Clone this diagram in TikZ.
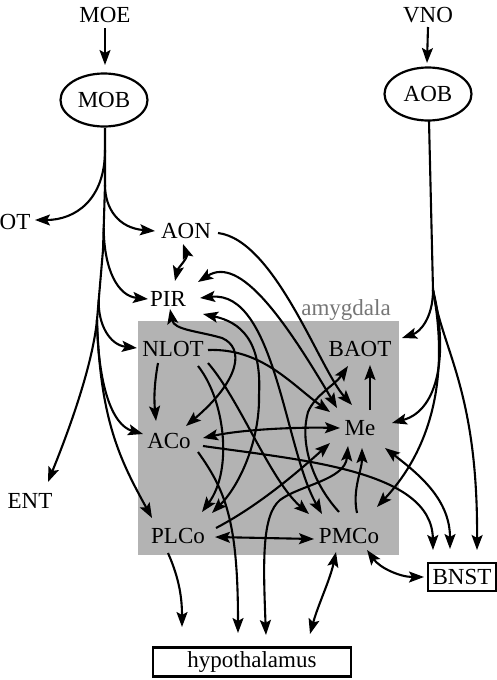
\documentclass[tikz,border=0pt]{standalone}
\usepackage{fontspec}
\setmainfont{Liberation Serif}
\usetikzlibrary{arrows.meta,shapes.geometric,calc}
\definecolor{amyggray}{RGB}{179,179,179}
\definecolor{labgray}{RGB}{118,118,118}
\begin{document}
\begin{tikzpicture}[x=1pt,y=-1pt,
  lbl/.style={font=\fontsize{23}{27}\selectfont, inner sep=0pt},
  oval/.style={lbl, draw, ellipse, line width=2.2pt, minimum width=87pt, minimum height=53pt},
  boxnode/.style={lbl, draw, line width=2.4pt, rectangle},
  con/.style={line width=2.1pt, line join=round},
  tipa/.tip={Stealth[length=15pt,width=11pt,inset=3pt]},
  arr/.style={con, -tipa},
  biarr/.style={con, tipa-tipa},
]
\useasboundingbox (0,0) rectangle (497,680);
% amygdala region
\node[fill=amyggray, minimum width=261pt, minimum height=234pt, inner sep=0pt] (amyg) at (268.5,438) {};
\node[lbl, text=labgray, anchor=base] (amylab) at (346,315) {amygdala};
% nodes
\node[lbl] (MOE) at (105,15) {MOE};
\node[oval] (MOB) at (104,100) {MOB};
\node[lbl] (VNO) at (428,15) {VNO};
\node[oval] (AOB) at (428,94) {AOB};
\node[lbl] (OT) at (15,222) {OT};
\node[lbl] (AON) at (186,231) {AON};
\node[lbl] (PIR) at (168,299) {PIR};
\node[lbl] (NLOT) at (173,349) {NLOT};
\node[lbl] (BAOT) at (360,349) {BAOT};
\node[lbl] (ACo) at (169,441) {ACo};
\node[lbl] (Me) at (360,428) {Me};
\node[lbl] (ENT) at (30,501) {ENT};
\node[lbl] (PLCo) at (178,536) {PLCo};
\node[lbl] (PMCo) at (349,536) {PMCo};
\node[boxnode, inner xsep=4.5pt, inner ysep=6.5pt] (BNST) at (462,577) {BNST};
\node[boxnode, minimum width=198pt, minimum height=29pt, inner sep=0pt] (hyp) at (252,662) {hypothalamus};
% inputs
\draw[arr] ($(MOE)+(0,13)$) -- ($(MOB)+(1,-35)$);
\draw[arr] ($(VNO)+(0,12)$) -- ($(AOB)+(-1,-31)$);
% MOB trunk and branches
\coordinate (mt1) at (105,150);
\coordinate (mt2) at (105,185);
\coordinate (mt3) at (103.7,228);
\coordinate (mt4) at (98.7,300);
\coordinate (mt5) at (97,320);
\draw[con] ($(MOB)+(1,28)$) -- (mt2) -- (103,250) -- (mt5);
\draw[arr] (mt1) .. controls (105,200) and (75,220) .. ($(OT)+(20,-2)$);
\draw[arr] (mt2) .. controls (105,208) and (118,228) .. ($(AON)+(-31,0)$);
\draw[arr] (mt3) .. controls (104,270) and (118,296) .. ($(PIR)+(-20,0)$);
\draw[arr] (mt4) .. controls (98,325) and (110,345) .. ($(NLOT)+(-36,-1)$);
\draw[arr] (mt5) .. controls (92,370) and (65,440) .. ($(ENT)+(18,-19)$);
\draw[arr] (mt5) .. controls (98,385) and (112,425) .. ($(ACo)+(-26,-7)$);
\draw[arr] (mt5) .. controls (100,420) and (120,460) .. ($(PLCo)+(-26,-18)$);
% AOB trunk and branches
\coordinate (aS) at (433,290);
\draw[con] ($(AOB)+(1,27)$) -- (aS);
\draw[arr] (aS) .. controls (433,318) and (420,332) .. ($(BAOT)+(42,-11)$);
\draw[arr] (aS) .. controls (448,350) and (440,410) .. ($(Me)+(32,-5)$);
\draw[arr] (aS) .. controls (450,380) and (430,450) .. ($(PMCo)+(28,-29)$);
\draw[arr] (aS) .. controls (442,350) and (478,390) .. ($(BNST)+(15,-27)$);
% AON / PIR
\draw[biarr] ($(AON)+(-3,13)$) .. controls (188,258) and (178,268) .. ($(PIR)+(7,-18)$);
\draw[arr] ($(AON)+(32,2)$) .. controls (275,240) and (320,370) .. ($(Me)+(-8,-23)$);
\draw[biarr] ($(PIR)+(30,-17)$) .. controls (240,255) and (285,320) .. ($(Me)+(-23,-20)$);
\draw[biarr] ($(PIR)+(32,-1)$) .. controls (275,290) and (285,450) .. ($(PMCo)+(-27,-22)$);
\draw[biarr] ($(PIR)+(35,15)$) .. controls (240,322) and (262,340) .. (259,395) .. controls (260,440) and (240,485) .. ($(PLCo)+(34,-23)$);
\draw[biarr] ($(PIR)+(2,10)$) .. controls (174,330) and (198,331) .. (222,338) .. controls (245,348) and (240,380) .. ($(ACo)+(17,-15)$);
% NLOT
\draw[arr] ($(NLOT)+(-15,14)$) .. controls (154,385) and (154,400) .. ($(ACo)+(-13,-20)$);
\draw[arr] ($(NLOT)+(35,1)$) .. controls (262,348) and (292,385) .. ($(Me)+(-30,-16)$);
\draw[arr] ($(NLOT)+(25,17)$) .. controls (225,400) and (233,470) .. ($(PLCo)+(24,-24)$);
\draw[arr] ($(NLOT)+(35,14)$) .. controls (240,400) and (270,480) .. ($(PMCo)+(-40,-22)$);
% ACo
\draw[biarr] ($(ACo)+(34,-3)$) .. controls (240,430) and (290,427) .. ($(Me)+(-20,0)$);
\draw[arr] ($(ACo)+(34,5)$) .. controls (300,460) and (432,470) .. ($(BNST)+(-29,-27)$);
\draw[arr] ($(ACo)+(29,11)$) .. controls (225,490) and (238,520) .. ($(hyp)+(-14,-29)$);
% PLCo
\draw[biarr] ($(PLCo)+(37,1)$) -- ($(PMCo)+(-35,3)$);
\draw[arr] ($(PLCo)+(38,-8)$) .. controls (260,505) and (300,470) .. ($(Me)+(-30,15)$);
\draw[arr] ($(PLCo)+(-10,17)$) .. controls (180,580) and (182,600) .. ($(hyp)+(-70,-35)$);
% PMCo
\draw[biarr] ($(PMCo)+(-13,16)$) .. controls (330,580) and (318,605) .. ($(hyp)+(58,-28)$);
\draw[biarr] ($(PMCo)+(18,14)$) .. controls (380,568) and (400,577) .. ($(BNST)+(-38,0)$);
\draw[arr] ($(PMCo)+(-10,-24)$) .. controls (310,480) and (300,440) .. (308,412) .. controls (315,395) and (335,385) .. ($(BAOT)+(-12,17)$);
\draw[arr] ($(PMCo)+(8,-23)$) .. controls (352,490) and (362,470) .. ($(Me)+(2,20)$);
% Me
\draw[arr] ($(Me)+(10,-18)$) -- ($(BAOT)+(10,16)$);
\draw[biarr] ($(Me)+(25,20)$) .. controls (420,475) and (450,500) .. ($(BNST)+(-12,-28)$);
\draw[biarr] ($(Me)+(-12,18)$) .. controls (345,480) and (300,485) .. (280,500) .. controls (262,515) and (263,560) .. ($(hyp)+(14,-27)$);
\end{tikzpicture}
\end{document}
